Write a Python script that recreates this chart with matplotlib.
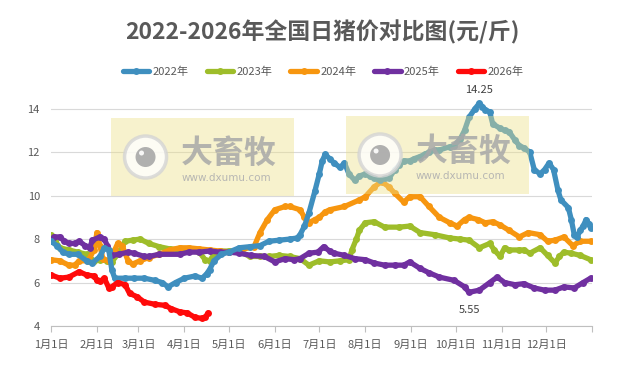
import matplotlib
matplotlib.use("Agg")
import matplotlib.pyplot as plt
from matplotlib.patches import Rectangle, Circle

plt.rcParams['font.family'] = ['Noto Sans CJK SC', 'DejaVu Sans']

# day of year (0 = Jan 1) and price
d2022 = [0, 4, 8, 12, 18, 24, 28, 33, 36, 39, 41, 43, 50, 56, 63, 70, 75, 79, 84, 90,
         97, 102, 105, 107, 110, 115, 120, 127, 134, 141, 147, 154, 161, 166, 168, 171,
         174, 178, 181, 183, 185, 188, 191, 195, 198, 201, 205, 208, 212, 215, 218, 222,
         225, 228, 232, 235, 238, 242, 245, 249, 252, 255, 259, 262, 269, 272, 276, 279,
         282, 286, 289, 291, 293, 296, 298, 303, 306, 309, 313, 316, 319, 323, 326, 330,
         333, 336, 339, 342, 344, 349, 351, 353, 355, 357, 359, 361, 363, 364]
v2022 = [7.9, 7.7, 7.4, 7.3, 7.3, 7.0, 6.9, 7.2, 7.6, 7.5, 6.6, 6.2, 6.2, 6.2, 6.2, 6.1, 6.0, 5.8, 6.0, 6.2,
         6.3, 6.2, 6.4, 6.6, 7.0, 7.3, 7.4, 7.6, 7.65, 7.7, 7.9, 7.95, 8.0, 8.05, 8.2, 8.6,
         9.2, 10.2, 11.0, 11.6, 11.9, 11.7, 11.5, 11.3, 11.5, 11.0, 10.7, 10.9, 11.0, 10.9, 10.8, 10.7,
         10.8, 10.8, 11.2, 11.4, 11.6, 11.6, 11.7, 11.8, 11.9, 12.0, 12.1, 12.1, 12.25, 12.3, 12.6, 13.0,
         13.6, 14.0, 14.25, 14.1, 13.95, 13.85, 13.3, 13.1, 13.0, 12.95, 12.55, 12.3, 12.2, 12.0, 11.2, 11.0,
         11.2, 11.5, 11.2, 10.25, 9.8, 9.45, 8.9, 8.2, 8.1, 8.4, 8.6, 8.9, 8.7, 8.5]

d2023 = [0, 3, 6, 12, 18, 24, 29, 33, 38, 41, 45, 50, 55, 60, 66, 73, 80, 90, 100, 104,
         107, 110, 114, 120, 127, 134, 141, 147, 154, 161, 168, 174, 181, 188, 195, 201,
         203, 206, 208, 212, 218, 225, 235, 242, 249, 259, 269, 276, 282, 289, 296, 299,
         303, 306, 309, 316, 319, 323, 330, 335, 340, 343, 346, 351, 357, 364]
v2023 = [8.2, 7.9, 7.6, 7.5, 7.4, 7.3, 7.0, 7.05, 7.0, 6.95, 7.3, 7.9, 7.95, 8.0, 7.8, 7.65, 7.55, 7.5, 7.4, 7.05,
         7.0, 7.3, 7.45, 7.45, 7.45, 7.2, 7.2, 7.2, 7.25, 7.2, 7.1, 6.8, 7.0, 6.95, 7.0, 7.05,
         7.5, 8.0, 8.4, 8.75, 8.8, 8.55, 8.55, 8.6, 8.3, 8.2, 8.05, 8.0, 7.95, 7.6, 7.8, 7.5,
         7.2, 7.6, 7.5, 7.5, 7.5, 7.35, 7.6, 7.25, 6.9, 7.2, 7.4, 7.35, 7.25, 7.05]

d2024 = [0, 6, 12, 16, 19, 25, 29, 31, 33, 35, 39, 43, 45, 48, 52, 55, 60, 66, 73, 80,
         87, 93, 100, 107, 114, 120, 127, 137, 141, 146, 151, 158, 161, 168, 171, 174,
         178, 181, 185, 188, 198, 208, 212, 218, 223, 228, 232, 238, 242, 249, 255, 262,
         269, 274, 279, 282, 288, 293, 298, 303, 309, 316, 322, 330, 335, 340, 346, 352,
         357, 364]
v2024 = [7.05, 7.0, 6.8, 6.8, 7.0, 7.0, 7.5, 8.3, 7.7, 7.1, 7.0, 7.5, 7.8, 7.7, 7.0, 6.85, 7.0, 7.15, 7.3, 7.5,
         7.6, 7.6, 7.55, 7.5, 7.45, 7.4, 7.5, 7.65, 8.3, 8.9, 9.35, 9.5, 9.5, 9.35, 9.0, 8.75,
         8.9, 9.0, 9.25, 9.35, 9.5, 9.8, 9.95, 10.4, 10.65, 10.4, 10.1, 9.7, 9.95, 9.95, 9.5, 9.0,
         8.75, 8.6, 8.9, 9.0, 8.9, 8.75, 8.8, 8.65, 8.4, 8.1, 8.3, 8.2, 7.9, 7.95, 8.1, 7.7,
         7.9, 7.9]

d2025 = [0, 2, 6, 9, 12, 16, 19, 23, 26, 28, 33, 36, 38, 41, 46, 52, 56, 63, 66, 73,
         87, 93, 100, 107, 114, 120, 127, 135, 144, 151, 158, 164, 168, 174, 180, 184,
         188, 191, 198, 205, 212, 218, 225, 232, 238, 242, 249, 255, 262, 272, 279, 282,
         289, 296, 301, 306, 313, 319, 326, 333, 340, 346, 353, 359, 364]
v2025 = [7.9, 8.1, 8.1, 7.9, 7.8, 7.8, 7.9, 7.7, 7.6, 7.95, 8.1, 8.0, 7.7, 7.25, 7.3, 7.4, 7.35, 7.2, 7.2, 7.3,
         7.3, 7.4, 7.4, 7.45, 7.4, 7.4, 7.35, 7.25, 7.2, 6.95, 7.1, 7.05, 7.1, 7.35, 7.4, 7.65,
         7.45, 7.35, 7.25, 7.1, 7.05, 6.9, 6.8, 6.8, 6.8, 6.95, 6.65, 6.45, 6.25, 6.1, 5.8, 5.55,
         5.65, 6.0, 6.25, 6.0, 5.9, 5.95, 5.75, 5.65, 5.65, 5.8, 5.75, 6.0, 6.2]

d2026 = [0, 6, 12, 19, 24, 29, 31, 33, 36, 39, 41, 45, 50, 53, 58, 63, 70, 77, 81, 87,
         92, 97, 102, 104, 106]
v2026 = [6.35, 6.2, 6.25, 6.5, 6.35, 6.3, 6.1, 6.05, 6.2, 5.75, 5.8, 6.0, 5.9, 5.5, 5.35, 5.1, 5.0, 4.95, 4.8, 4.65,
         4.6, 4.4, 4.35, 4.4, 4.6]

month_days = [0, 31, 59, 90, 120, 151, 181, 212, 243, 273, 304, 334, 365]
month_labels = ['1月1日', '2月1日', '3月1日', '4月1日', '5月1日', '6月1日', '7月1日',
                '8月1日', '9月1日', '10月1日', '11月1日', '12月1日', '']

series = [
    ('2022年', d2022, v2022, '#3f8fbf', 4),
    ('2023年', d2023, v2023, '#9ebd2a', 1),
    ('2024年', d2024, v2024, '#f7960f', 2),
    ('2025年', d2025, v2025, '#7030a0', 3),
    ('2026年', d2026, v2026, '#ff0a0a', 5),
]

fig = plt.figure(figsize=(6.18, 3.66), dpi=100)
ax = fig.add_axes([0.0825, 0.1093, 0.8755, 0.653])

for name, d, v, c, z in series:
    ax.plot(d, v, color=c, lw=3.8, marker='o', ms=5, mew=0, label=name, zorder=z,
            solid_capstyle='round', solid_joinstyle='round')

ax.set_xlim(0, 365)
ax.set_ylim(4, 15)
ax.set_yticks([4, 6, 8, 10, 12, 14])
ax.set_xticks(month_days)
ax.set_xticklabels(month_labels)
ax.grid(axis='y', color='#d9d9d9', lw=0.8)
ax.set_axisbelow(True)
for s in ['top', 'right', 'left']:
    ax.spines[s].set_visible(False)
ax.spines['bottom'].set_color('#bfbfbf')
ax.tick_params(axis='y', length=0, labelsize=8, labelcolor='#595959', pad=8)
ax.tick_params(axis='x', length=4, color='#bfbfbf', labelsize=8, labelcolor='#595959', pad=6)

# data labels for the max of 2022 and the min of 2025
i = v2022.index(max(v2022))
ax.annotate(f'{v2022[i]:.2f}', xy=(d2022[i], v2022[i]), xytext=(0, 6), textcoords='offset points',
            ha='center', va='bottom', fontsize=8, color='#404040')
j = v2025.index(min(v2025))
ax.annotate(f'{v2025[j]:.2f}', xy=(d2025[j], v2025[j]), xytext=(0, -9), textcoords='offset points',
            ha='center', va='top', fontsize=8, color='#404040')

fig.text(0.522, 0.912, '2022-2026年全国日猪价对比图(元/斤)', ha='center', va='center',
         fontsize=16.5, weight='bold', color='#595959')
fig.legend(loc='center', bbox_to_anchor=(0.523, 0.803), ncol=5, frameon=False, fontsize=8,
           handlelength=2.4, columnspacing=1.6, handletextpad=0.3, labelcolor='#595959')

# watermarks
for x0, y0, cx in [(0.180, 0.4645, 0.2355), (0.560, 0.470, 0.615)]:
    fig.patches.append(Rectangle((x0, y0), 0.296, 0.213, transform=fig.transFigure,
                                 facecolor='#ece08a', alpha=0.42, edgecolor='none', zorder=10))
    cy = y0 + 0.1065
    fig.patches.append(Circle((cx * 618, cy * 366), 21, transform=None, facecolor='white',
                              edgecolor='#d4d4d4', lw=2.5, alpha=0.8, zorder=11))
    fig.patches.append(Circle((cx * 618, cy * 366), 10, transform=None, facecolor='#a8a8a8',
                              edgecolor='none', alpha=0.9, zorder=12))
    fig.patches.append(Circle((cx * 618 - 4, cy * 366 + 4), 2.5, transform=None, facecolor='white',
                              edgecolor='none', alpha=0.9, zorder=13))
    fig.text(x0 + 0.112, cy + 0.008, '大畜牧', fontsize=23, weight='bold', color='#a8a8a8',
             alpha=0.85, va='center', ha='left', zorder=14)
    fig.text(x0 + 0.113, cy - 0.057, 'www.dxumu.com', fontsize=7.5, color='#b0b0b0',
             family='DejaVu Sans', alpha=0.9, va='center', ha='left', zorder=14)

fig.savefig('out.png', dpi=100)
